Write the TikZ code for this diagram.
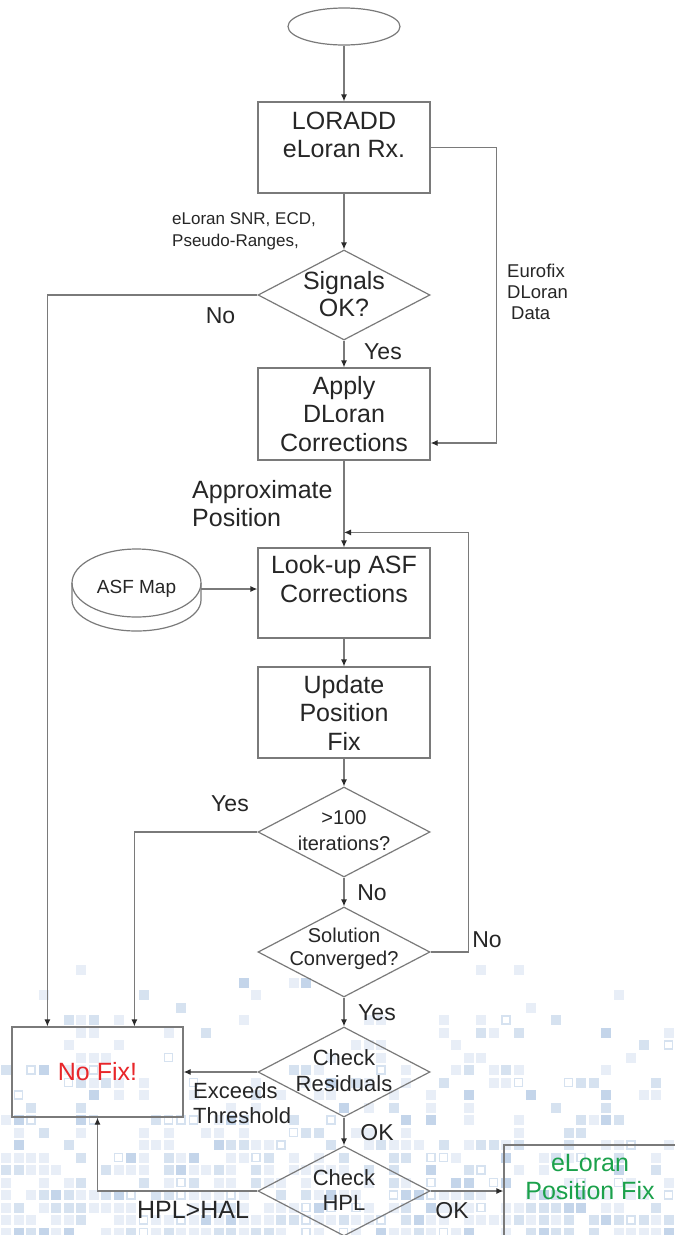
\documentclass[tikz,border=0pt]{standalone}
\usepackage{fontspec}
\setmainfont{Liberation Sans}
\usetikzlibrary{arrows.meta,shapes.geometric,calc}
\definecolor{ln}{HTML}{7A7A7A}
\definecolor{tip}{HTML}{2A2A2A}
\definecolor{tx}{HTML}{262626}
\definecolor{nofixred}{HTML}{E8262A}
\definecolor{fixgreen}{HTML}{1BA14B}
\definecolor{sqA}{HTML}{E8EEF7}
\definecolor{sqB}{HTML}{D6E2F0}
\definecolor{sqC}{HTML}{C4D5EA}
\begin{document}
\begin{tikzpicture}[x=1pt,y=-1pt,
  box/.style={draw=ln, line width=1.2pt, rectangle, minimum width=172pt, minimum height=91pt, inner sep=0pt, text=tx, align=center, font=\fontsize{25}{28.5}\selectfont},
  dia/.style={draw=ln, line width=1.2pt, diamond, minimum width=172pt, minimum height=90pt, inner sep=0pt},
  txt/.style={text=tx, align=center, inner sep=0pt, font=\fontsize{25}{28.5}\selectfont},
  dtxt/.style={text=tx, align=center, inner sep=0pt},
  lab/.style={text=tx, inner sep=0pt, font=\fontsize{23}{26}\selectfont},
  small/.style={text=tx, inner sep=0pt, align=left},
  conn/.style={draw=ln, line width=1.2pt, -{Latex[length=7pt,width=6pt,color=tip]}},
  plain/.style={draw=ln, line width=1.2pt},
]
\useasboundingbox (0,0) rectangle (675,1235);
\clip (0,0) rectangle (675,1235);
\fill[white] (0,0) rectangle (675,1235);
% background pixel squares
\pgfmathsetseed{11}
\foreach \i in {0,...,54}{
  \foreach \j in {0,...,24}{
    \pgfmathsetmacro{\yy}{940+12.5*\j}
    \pgfmathsetmacro{\pp}{0.85*((\yy-938)/295)^1.4}
    \pgfmathsetmacro{\rr}{rnd}
    \pgfmathsetmacro{\cc}{rnd}
    \ifdim\rr pt<\pp pt
      \ifdim\cc pt<0.5pt
        \fill[sqA] (\i*12.5+1,\yy) rectangle ++(10,10);
      \else\ifdim\cc pt<0.75pt
        \fill[sqB] (\i*12.5+1,\yy) rectangle ++(10,10);
      \else\ifdim\cc pt<0.87pt
        \fill[sqC] (\i*12.5+1,\yy) rectangle ++(10,10);
      \else
        \draw[sqB, line width=1.5pt] (\i*12.5+2,\yy+1) rectangle ++(8,8);
      \fi\fi\fi
    \fi
  }
}

% nodes
\node[draw=ln, line width=1.2pt, ellipse, minimum width=112pt, minimum height=37pt, inner sep=0pt] (ell) at (344,26.5) {};
\node[box] (lor) at (344,147.5) {};
\node[txt] (lorT) at (344,135) {LORADD\\eLoran Rx.};
\node[dia] (sig) at (344,295) {};
\node[dtxt, font=\fontsize{25}{27}\selectfont] (sigT) at (344,294) {Signals\\OK?};
\node[box, minimum height=92pt] (app) at (344,414) {Apply\\DLoran\\Corrections};
\node[box, minimum height=90pt] (look) at (344,593) {};
\node[txt] (lookT) at (344,579) {Look-up ASF\\Corrections};
\node[box] (upd) at (344,712.5) {Update\\Position\\Fix};
\node[dia] (it) at (344,832) {};
\node[dtxt, font=\fontsize{20}{26}\selectfont] (itT) at (344,831) {>100\\iterations?};
\node[dia] (conv) at (344,952) {};
\node[dtxt, font=\fontsize{20}{22.5}\selectfont] (convT) at (344,949) {Solution\\Converged?};
\node[dia] (res) at (344,1072) {};
\node[dtxt, font=\fontsize{22}{26}\selectfont] (resT) at (344,1071) {Check\\Residuals};
\node[dia] (hpl) at (344,1191) {};
\node[dtxt, font=\fontsize{22}{25}\selectfont] (hplT) at (344,1190) {Check\\HPL};
\node[box, minimum width=171pt, minimum height=90pt] (nofix) at (97.5,1072) {};
\node[txt, text=nofixred] (nofixT) at (97.5,1072) {No Fix!};
\node[box, minimum width=186pt, minimum height=105pt] (fix) at (597,1197.5) {};
\node[txt, text=fixgreen] (fixT) at (590,1177) {eLoran\\Position Fix};

% ASF map cylinder
\draw[plain] (72,583) -- (72,600) arc[start angle=180,end angle=0,x radius=64.5,y radius=31] -- (201,583);
\draw[plain] (136.5,583) ellipse[x radius=64.5, y radius=34];
\node[text=tx, inner sep=0pt, font=\fontsize{19}{22}\selectfont] (asf) at (136.5,589) {ASF Map};
\coordinate (asfR) at (201,589);

% labels
\node[small, anchor=west, font=\fontsize{17}{22}\selectfont] (lblSNR) at (172,231) {eLoran SNR, ECD,\\Pseudo-Ranges,};
\node[small, anchor=west, font=\fontsize{18.5}{21}\selectfont] (lblEuro) at (507,292) {Eurofix\\DLoran\\\hspace*{4pt}Data};
\node[lab] (lblNo1) at (220.5,316) {No};
\node[lab] (lblYes1) at (383,352) {Yes};
\node[small, anchor=west, font=\fontsize{25}{28}\selectfont] (lblApprox) at (192,504) {Approximate\\Position};
\node[lab] (lblYes2) at (230,804) {Yes};
\node[lab] (lblNo2) at (372,893) {No};
\node[lab] (lblNo3) at (487,940) {No};
\node[lab] (lblYes3) at (377,1013) {Yes};
\node[small, anchor=west, font=\fontsize{22}{24.5}\selectfont] (lblExc) at (193,1103) {Exceeds\\Threshold};
\node[lab] (lblOK1) at (377,1133) {OK};
\node[lab, font=\fontsize{25}{28}\selectfont] (lblHPL) at (193,1210) {HPL>HAL};
\node[lab] (lblOK2) at (452,1211) {OK};

% connectors
\draw[conn] (ell) -- (lor);
\draw[conn] (lor) -- (sig);
\draw[conn] (sig.west) -| ([xshift=36pt]nofix.north west);
\draw[conn] (sig) -- (app);
\draw[conn] (lor.east) -- ++(66,0) |- ([yshift=-29pt]app.east);
\draw[conn] (app) -- (look);
\draw[conn] (asfR) -- (asfR -| look.west);
\draw[conn] (look) -- (upd);
\draw[conn] (upd) -- (it);
\draw[conn] (it.west) -| ([xshift=123pt]nofix.north west);
\draw[conn] (it) -- (conv);
\draw[conn] (conv.east) -- ++(38,0) |- ([yshift=15pt]look.north);
\draw[conn] (conv) -- (res);
\draw[conn] (res.west) -- (nofix.east);
\draw[conn] (res) -- (hpl);
\draw[conn] (hpl.west) -| (nofix.south);
\draw[conn] (hpl.east) -- (hpl.east -| fix.west);
\end{tikzpicture}
\end{document}
